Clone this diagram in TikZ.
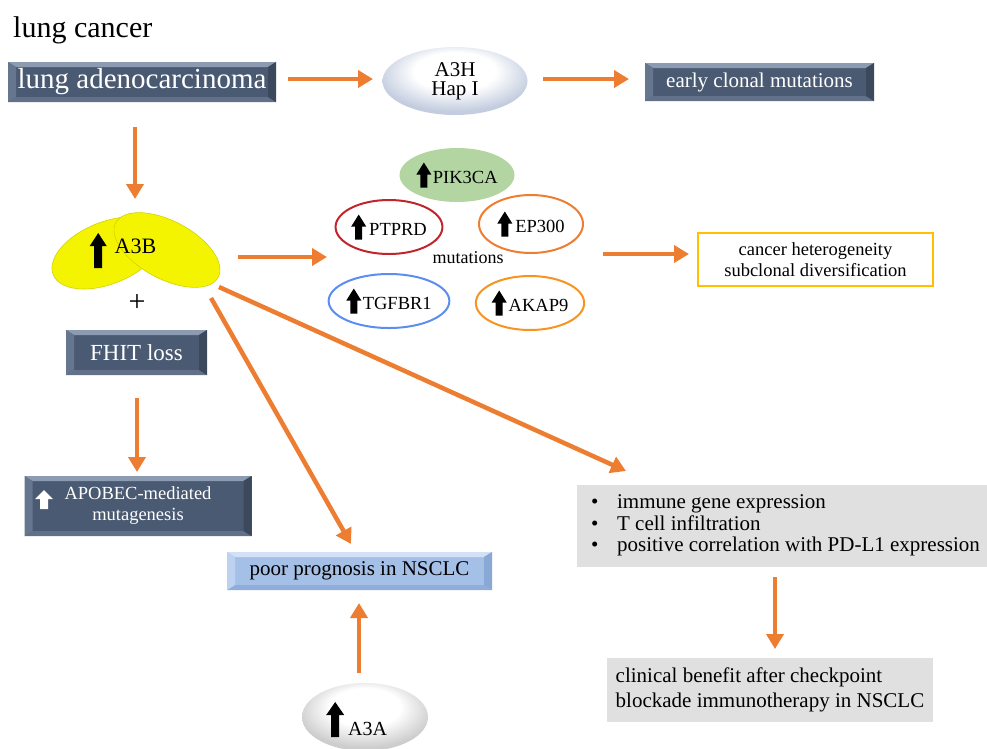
\documentclass[tikz,border=0pt]{standalone}
\usepackage{fontspec}
\setmainfont{Liberation Serif}
\usetikzlibrary{arrows.meta,shapes.geometric}
\definecolor{arrowor}{HTML}{ED7D31}
\definecolor{slate}{HTML}{4A5A72}
\definecolor{slatetop}{HTML}{8C9BB1}
\definecolor{slatebot}{HTML}{627189}
\definecolor{slatel}{HTML}{66768E}
\definecolor{slater}{HTML}{3C495C}
\definecolor{lb}{HTML}{A4C0E7}
\definecolor{lbtop}{HTML}{D2E1F5}
\definecolor{lbbot}{HTML}{8EADDA}
\definecolor{lbl}{HTML}{BCD2F0}
\definecolor{lbr}{HTML}{88A8D6}
\definecolor{ptprdc}{HTML}{C0252B}
\definecolor{ep300c}{HTML}{ED7D31}
\definecolor{tgfc}{HTML}{5B8EF0}
\definecolor{akapc}{HTML}{F7931E}
\definecolor{pikc}{HTML}{B3D5A1}
\definecolor{hetc}{HTML}{FFC000}
\definecolor{grayfill}{HTML}{E0E0E0}
\definecolor{a3hout}{HTML}{C3CDDF}
\definecolor{a3aout}{HTML}{CDCDCD}
\definecolor{yel}{HTML}{F4F400}
\definecolor{yeledge}{HTML}{D2D200}

\pgfdeclareradialshading{a3hshade}{\pgfpoint{0bp}{10bp}}{color(0bp)=(white); color(14bp)=(white); color(27bp)=(a3hout); color(50bp)=(a3hout)}
\pgfdeclareradialshading{a3ashade}{\pgfpoint{0bp}{10bp}}{color(0bp)=(white); color(14bp)=(white); color(27bp)=(a3aout); color(50bp)=(a3aout)}

% #1 total height, #2 head width, #3 shaft width, #4 head height, #5 depth below baseline, #6 colour
\newcommand\upglyph[6]{\tikz[x=1pt,y=1pt,baseline=0pt]\fill[#6] (-#3/2,-#5) -- (#3/2,-#5) -- (#3/2,#1-#4-#5) -- (#2/2,#1-#4-#5) -- (0,#1-#5) -- (-#2/2,#1-#4-#5) -- (-#3/2,#1-#4-#5) -- cycle;}

\tikzset{
  conn/.style={draw=arrowor, line width=4.5pt, -{Triangle[length=15pt,width=17pt]}},
  bev/.style n args={5}{fill=#1, inner sep=0pt, path picture={
    \path (path picture bounding box.north west) coordinate (bNW)
          (path picture bounding box.north east) coordinate (bNE)
          (path picture bounding box.south west) coordinate (bSW)
          (path picture bounding box.south east) coordinate (bSE);
    \fill[#2] (bNW) -- (bNE) -- ([xshift=-8pt,yshift=-5pt]bNE) -- ([xshift=8pt,yshift=-5pt]bNW) -- cycle;
    \fill[#3] (bSW) -- (bSE) -- ([xshift=-8pt,yshift=5pt]bSE) -- ([xshift=8pt,yshift=5pt]bSW) -- cycle;
    \fill[#4] (bNW) -- (bSW) -- ([xshift=8pt,yshift=5pt]bSW) -- ([xshift=8pt,yshift=-5pt]bNW) -- cycle;
    \fill[#5] (bNE) -- (bSE) -- ([xshift=-8pt,yshift=5pt]bSE) -- ([xshift=-8pt,yshift=-5pt]bNE) -- cycle;
  }},
  darkbox/.style={bev={slate}{slatetop}{slatebot}{slatel}{slater}, text=white},
  lightbox/.style={bev={lb}{lbtop}{lbbot}{lbl}{lbr}, text=black},
  mut/.style={ellipse, minimum width=104pt, minimum height=54pt, inner sep=0pt, line width=2pt, font=\fontsize{18.5}{20}\selectfont},
  graybox/.style={fill=grayfill, inner ysep=0pt},
}

\begin{document}
\begin{tikzpicture}[x=1pt,y=-1pt]
\useasboundingbox (0,0) rectangle (987,748);

% title
\node[anchor=base west, inner sep=0pt, font=\fontsize{30}{32}\selectfont] (title) at (13,37) {lung cancer};

% top row
\node[darkbox, minimum width=268pt, minimum height=40pt, font=\fontsize{29}{30}\selectfont] (adeno) at (142,82) {lung adenocarcinoma};
\node[ellipse, minimum width=145pt, minimum height=68pt, inner sep=0pt, shading=a3hshade, align=center, font=\fontsize{21}{19}\selectfont] (a3h) at (455,81) {A3H\\Hap I};
\node[darkbox, minimum width=229pt, minimum height=38pt, font=\fontsize{21}{22}\selectfont] (early) at (759.5,82) {early clonal mutations};

% A3B lobes
\fill[yel, draw=yeledge, line width=0.6pt, rotate around={22:(107,253)}] (107,253) ellipse [x radius=58, y radius=31];
\fill[yel, draw=yeledge, line width=0.6pt, rotate around={-28:(167,250)}] (167,250) ellipse [x radius=58, y radius=29];
\node[anchor=base, inner sep=0pt, font=\fontsize{22}{24}\selectfont] (a3b) at (123,253) {\upglyph{35}{17}{8}{13}{15}{black}\hspace{8pt}A3B};

\node[font=\fontsize{30}{30}\selectfont, inner sep=0pt] (plus) at (137,303) {+};
\node[darkbox, minimum width=141pt, minimum height=45pt, font=\fontsize{23}{24}\selectfont] (fhit) at (136.5,352.5) {FHIT loss};
\node[darkbox, minimum width=227pt, minimum height=60pt, align=center, font=\fontsize{18.5}{21}\selectfont] (apobec) at (138,506) {APOBEC-mediated\\mutagenesis};
\node[anchor=base, inner sep=0pt] (apoarr) at (44,502) {\upglyph{19}{18}{8}{9}{7}{white}};

% mutations
\node[mut, fill=pikc] (pik) at (457,175) {\upglyph{25}{15}{7}{12}{4}{black}\hspace{1.5pt}PIK3CA};
\node[mut, draw=ptprdc] (ptprd) at (389,227) {\upglyph{25}{15}{7}{12}{4}{black}\hspace{3pt}PTPRD};
\node[mut, draw=ep300c, minimum height=58pt] (ep300) at (531,224) {\upglyph{25}{15}{7}{12}{4}{black}\hspace{3pt}EP300};
\node[mut, draw=tgfc] (tgf) at (389,301) {\upglyph{25}{15}{7}{12}{4}{black}\hspace{1.5pt}TGFBR1};
\node[mut, draw=akapc] (akap) at (530,303) {\upglyph{25}{15}{7}{12}{4}{black}\hspace{2pt}AKAP9};
\node[inner sep=0pt, font=\fontsize{18}{20}\selectfont] (mutlbl) at (468,258) {mutations};

\node[draw=hetc, line width=2pt, fill=white, minimum width=235pt, minimum height=53pt, inner sep=0pt, align=center, font=\fontsize{18.5}{21}\selectfont] (het) at (815.5,259.5) {cancer heterogeneity\\subclonal diversification};

% lower
\node[lightbox, minimum width=265pt, minimum height=38pt, font=\fontsize{21}{22}\selectfont] (poor) at (359.5,571) {poor prognosis in NSCLC};
\node[ellipse, minimum width=126pt, minimum height=68pt, inner sep=0pt, shading=a3ashade] (a3a) at (365,717) {};
\node[anchor=base west, inner sep=0pt, font=\fontsize{20}{22}\selectfont] (a3alabel) at (326,735) {\upglyph{35}{18}{8}{13}{2}{black}\hspace{4pt}A3A};

\node[graybox, anchor=west, minimum height=82pt, inner xsep=14pt, font=\fontsize{21}{21.5}\selectfont] (immune) at (577,526)
 {\begin{tabular}{@{}l@{\hspace{18.6pt}}l@{}}\textbullet & immune gene expression\\ \textbullet & T cell infiltration\\ \textbullet & positive correlation with PD-L1 expression\end{tabular}};
\node[graybox, minimum width=326pt, minimum height=64pt, inner xsep=7pt, align=left, font=\fontsize{21}{25}\selectfont] (clin) at (770,690) {clinical benefit after checkpoint\\blockade immunotherapy in NSCLC};

% connector end points
\coordinate (e1a) at (288,79);  \coordinate (e1b) at (373,79);
\coordinate (e2a) at (543,79);  \coordinate (e2b) at (629,79);
\coordinate (e3a) at (135,127); \coordinate (e3b) at (135,199);
\coordinate (e4a) at (238,257); \coordinate (e4b) at (327,257);
\coordinate (e5a) at (603,254); \coordinate (e5b) at (689,254);
\coordinate (e6a) at (211,298); \coordinate (e6b) at (351,544);
\coordinate (e7a) at (219,287); \coordinate (e7b) at (626,471);
\coordinate (e8a) at (137,398); \coordinate (e8b) at (137,472);
\coordinate (e9a) at (359,673); \coordinate (e9b) at (359,603);
\coordinate (e10a) at (775,577); \coordinate (e10b) at (775,649);

\draw[conn] (e1a) -- (e1b);
\draw[conn] (e2a) -- (e2b);
\draw[conn] (e3a) -- (e3b);
\draw[conn] (e4a) -- (e4b);
\draw[conn] (e5a) -- (e5b);
\draw[conn] (e6a) -- (e6b);
\draw[conn] (e7a) -- (e7b);
\draw[conn] (e8a) -- (e8b);
\draw[conn] (e9a) -- (e9b);
\draw[conn] (e10a) -- (e10b);
\end{tikzpicture}
\end{document}
